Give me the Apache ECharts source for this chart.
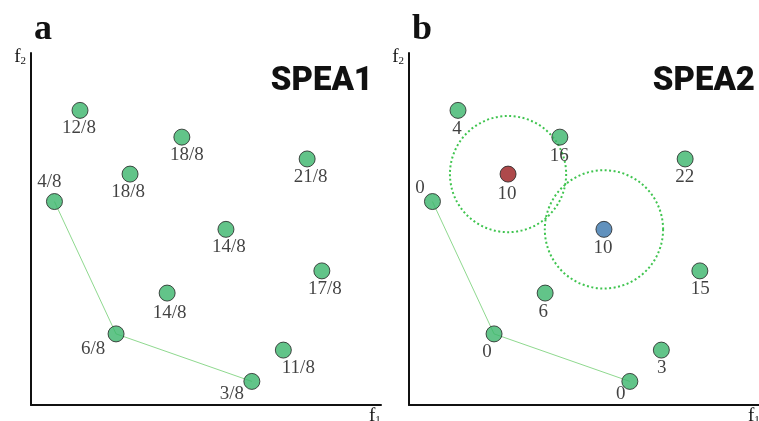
<!DOCTYPE html>
<html>
<head>
<meta charset="utf-8">
<script src="https://cdn.jsdelivr.net/npm/echarts@6/dist/echarts.min.js"></script>
<style>html,body{margin:0;padding:0;background:#fff;}#c{width:759px;height:421px;}</style>
</head>
<body>
<div id="c"></div>
<script>
// ---- data ----
const f1Values = [14.0, 43.1, 78.9, 28.3, 6.7, 55.7, 83.1, 38.9, 24.3, 72.1, 63.1];
const f2Values = [83.7, 76.1, 69.9, 65.6, 57.8, 49.9, 38.1, 31.8, 20.2, 15.6, 6.7];
const fitnessSPEA1 = ['12/8', '18/8', '21/8', '18/8', '4/8', '14/8', '17/8', '14/8', '6/8', '11/8', '3/8'];
const fitnessSPEA2 = ['4', '16', '22', '10', '0', '10', '15', '6', '0', '3', '0'];
const frontIndex = [4, 8, 10];          // non-dominated points joined by the line
const nicheIndex = [3, 5];              // points with density circles (SPEA2)
const nicheRadius = [16.6, 16.9];       // in f1 units
const panelTitles = ['SPEA1', 'SPEA2'];
const panelLetters = ['a', 'b'];

// ---- style (label offsets relative to marker centre) ----
const labelOffsetA = [[-1,18],[5,18],[3.5,18],[-2,18],[-5,-20],[3,18],[3,18],[2.5,19.5],[-23,15],[15,18],[-20,13]];
const labelOffsetB = [[-1,19],[-0.5,19],[-0.5,18],[-1,20],[-12.5,-14],[-1,19],[0.5,18],[-2,19],[-7,18],[0.5,18],[-9,13]];
const GREEN = '#3bb56c';
const specialColor = {3: '#9a1b1e', 5: '#3a76ad'};

const chart = echarts.init(document.getElementById('c'));

function axisName(sub) {
  return '{f|f}{s|' + sub + '}';
}
const nameRich = {
  f: {fontFamily: 'Liberation Serif', fontSize: 19, color: '#111'},
  s: {fontFamily: 'Liberation Serif', fontSize: 11, color: '#111', verticalAlign: 'bottom', padding: [8, 0, 0, 0]}
};

function pointSeries(idx, labels, offsets, colored) {
  return {
    type: 'scatter', xAxisIndex: idx, yAxisIndex: idx, z: 5,
    symbol: 'circle', symbolSize: 16,
    itemStyle: {color: GREEN, borderColor: '#222', borderWidth: 1},
    label: {show: true, position: 'inside', fontFamily: 'Liberation Serif', fontSize: 19, color: '#111'},
    data: f1Values.map((x, i) => ({
      value: [x, f2Values[i]],
      label: {formatter: labels[i], offset: offsets[i]},
      itemStyle: colored && specialColor[i] ? {color: specialColor[i]} : undefined
    }))
  };
}
function frontSeries(idx) {
  return {
    type: 'line', xAxisIndex: idx, yAxisIndex: idx, z: 3,
    symbol: 'none', silent: true,
    lineStyle: {color: '#8fd98f', width: 1},
    data: frontIndex.map(i => [f1Values[i], f2Values[i]])
  };
}

const option = {
  backgroundColor: '#fff',
  animation: false,
  title: [
    {text: panelLetters[0], left: 34, top: 12, padding: 0, textStyle: {fontFamily: 'Liberation Serif', fontWeight: 'bold', fontSize: 36, color: '#111'}},
    {text: panelLetters[1], left: 412, top: 12, padding: 0, textStyle: {fontFamily: 'Liberation Serif', fontWeight: 'bold', fontSize: 36, color: '#111'}},
    {text: panelTitles[0], right: 386, top: 65, padding: 0, textStyle: {fontFamily: 'Roboto', fontWeight: 900, fontSize: 33, color: '#111'}},
    {text: panelTitles[1], right: 4, top: 65, padding: 0, textStyle: {fontFamily: 'Roboto', fontWeight: 900, fontSize: 33, color: '#111'}}
  ],
  grid: [
    {left: 31, top: 53, width: 350, height: 352, outerBoundsMode: 'none', containLabel: false},
    {left: 409, top: 53, width: 350, height: 352, outerBoundsMode: 'none', containLabel: false}
  ],
  xAxis: [0, 1].map(i => ({
    type: 'value', gridIndex: i, min: 0, max: 100,
    axisLine: {show: true, lineStyle: {color: '#111', width: 2}},
    axisTick: {show: false}, axisLabel: {show: false}, splitLine: {show: false},
    name: axisName('1'), nameLocation: 'end', nameGap: i === 0 ? -12 : -11,
    nameTextStyle: {rich: nameRich, align: 'left', verticalAlign: 'top', padding: [2, 0, 0, 0]}
  })),
  yAxis: [0, 1].map(i => ({
    type: 'value', gridIndex: i, min: 0, max: 100,
    axisLine: {show: true, lineStyle: {color: '#111', width: 2}},
    axisTick: {show: false}, axisLabel: {show: false}, splitLine: {show: false},
    name: axisName('2'), nameLocation: 'end', nameGap: 5,
    nameTextStyle: {rich: nameRich, align: 'right', verticalAlign: 'top', padding: [0, 5, 0, 0]}
  })),
  series: [
    frontSeries(0),
    pointSeries(0, fitnessSPEA1, labelOffsetA, false),
    frontSeries(1),
    {
      type: 'custom', xAxisIndex: 1, yAxisIndex: 1, z: 2, silent: true,
      data: nicheIndex.map((p, k) => [f1Values[p], f2Values[p], nicheRadius[k]]),
      renderItem: function (params, api) {
        const c = api.coord([api.value(0), api.value(1)]);
        const r = api.size([api.value(2), 0])[0];
        return {
          type: 'circle',
          shape: {cx: c[0], cy: c[1], r: r},
          style: {fill: 'none', stroke: '#3fc44f', lineWidth: 2, lineDash: [2, 2.5]}
        };
      }
    },
    pointSeries(1, fitnessSPEA2, labelOffsetB, true)
  ]
};
chart.setOption(option);
</script>
</body>
</html>
